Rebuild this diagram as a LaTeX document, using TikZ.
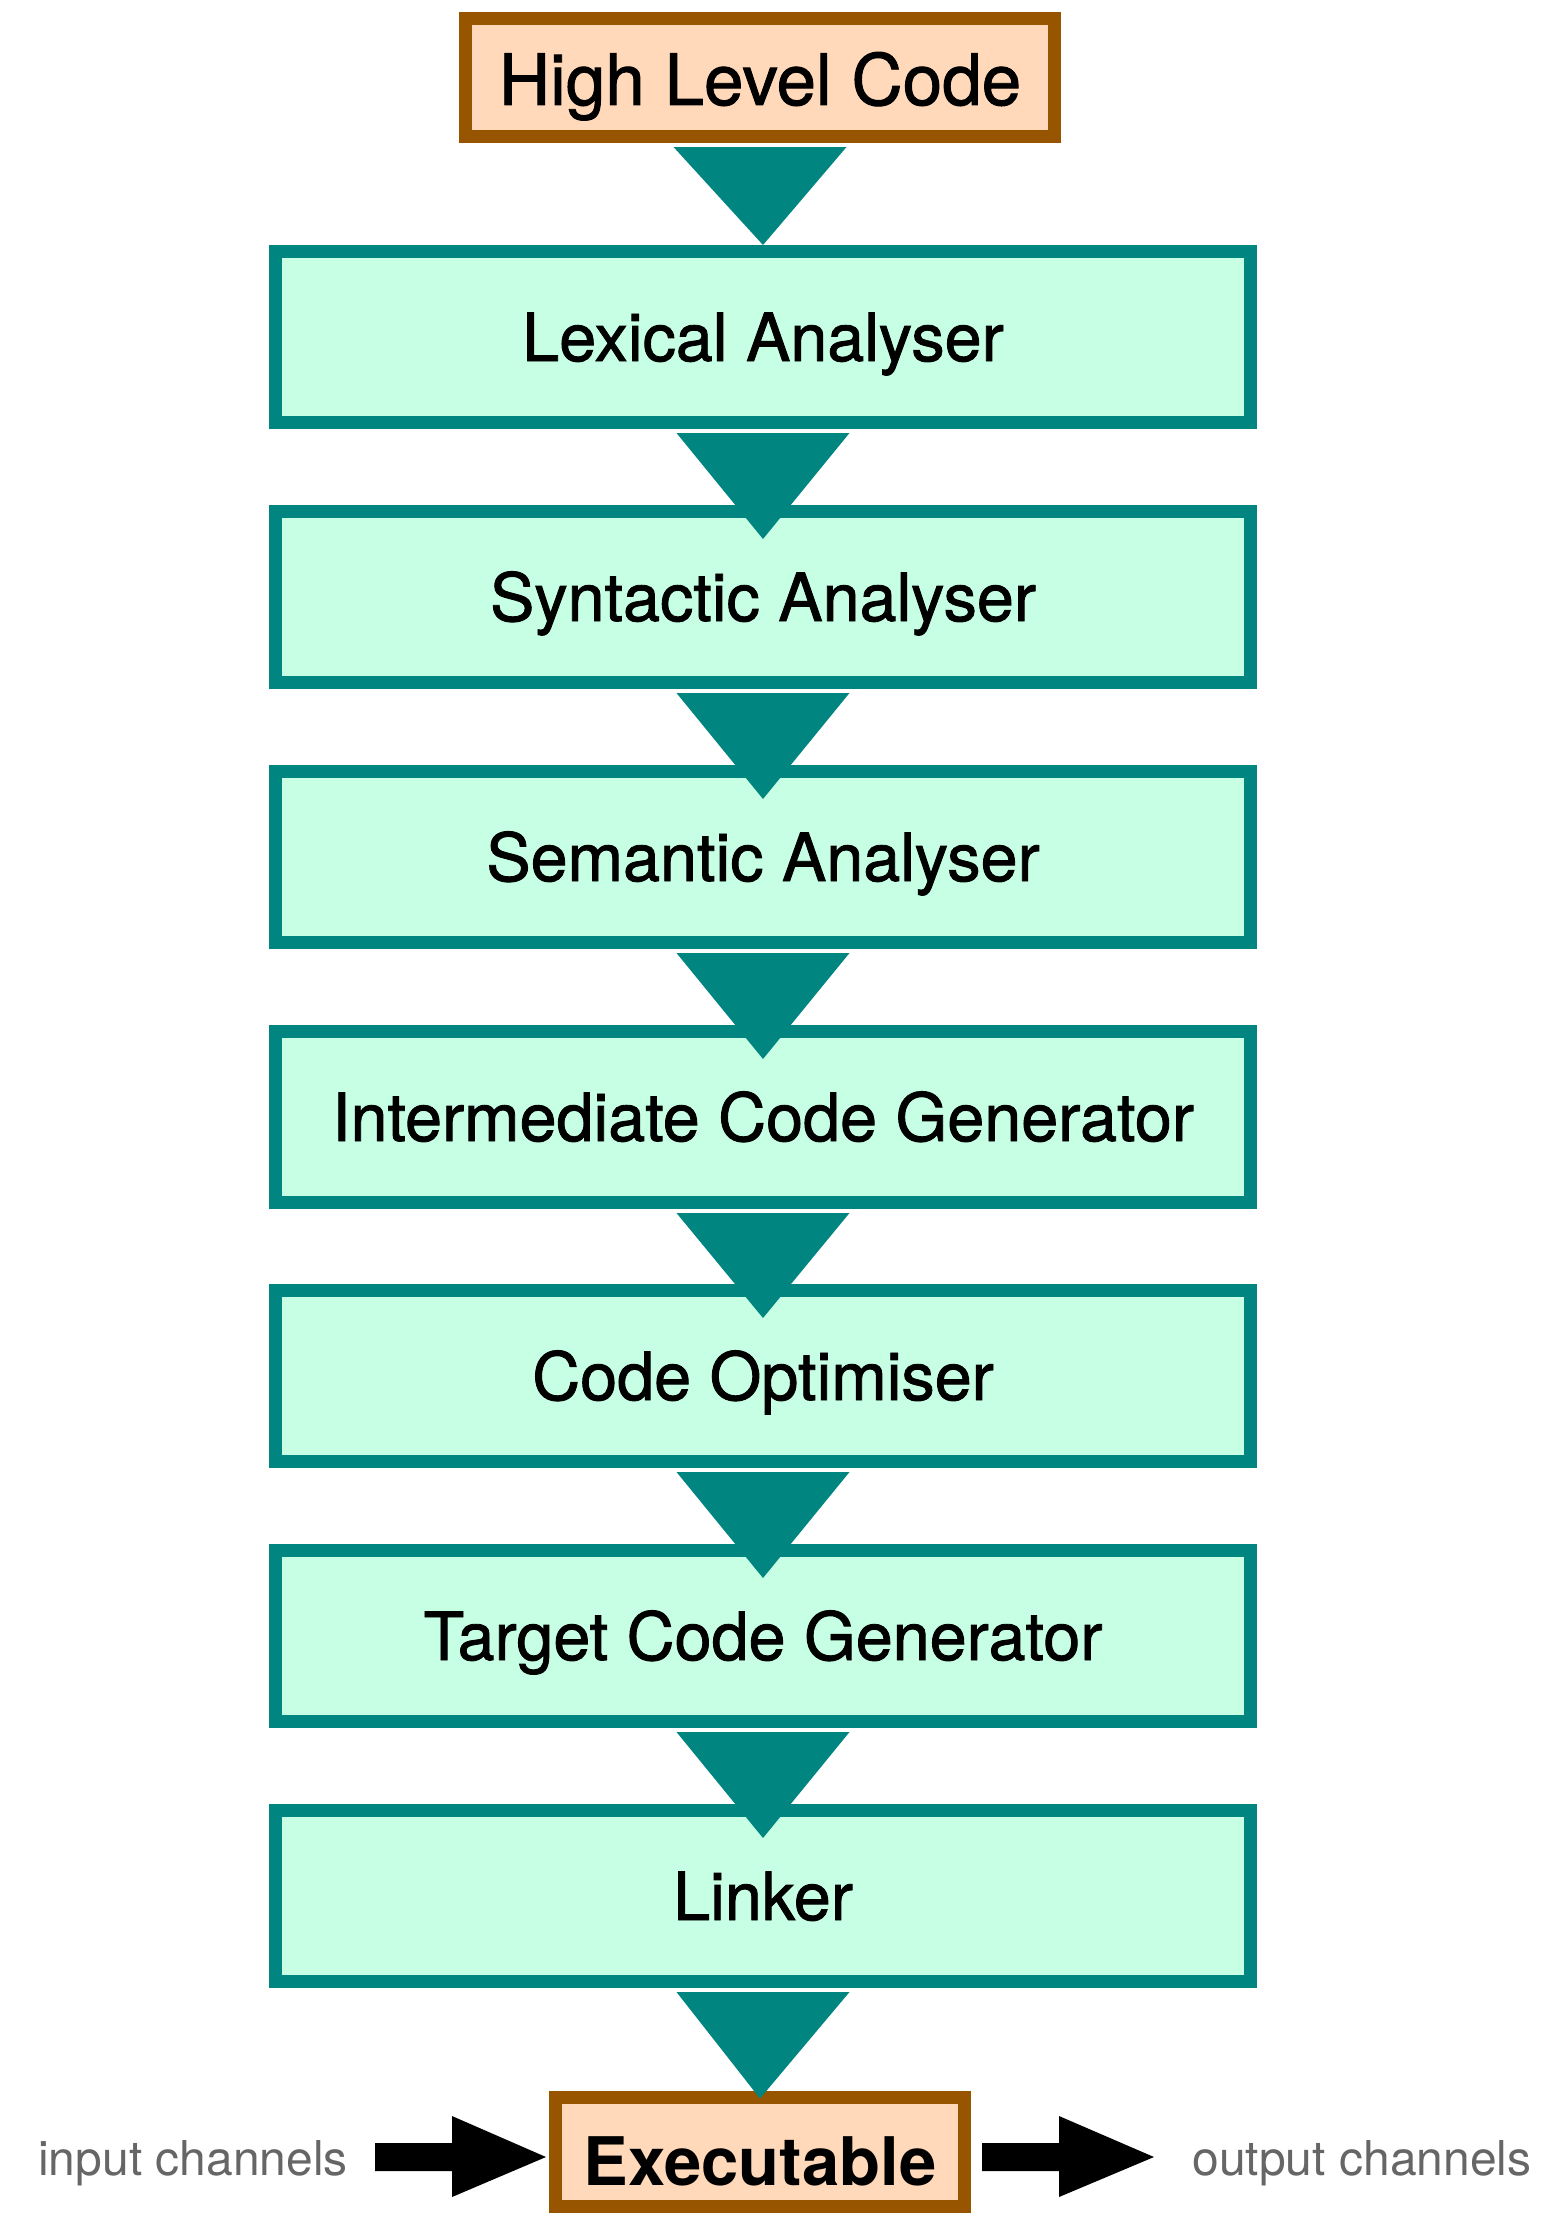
\documentclass[tikz,border=0pt]{standalone}
\usepackage{fontspec}
\setmainfont{TeX Gyre Heros}
\newfontfamily\medfont{TeX Gyre Heros}[FakeBold=1.3]
\usetikzlibrary{calc}
\definecolor{tealA}{RGB}{0,133,128}
\definecolor{mintA}{RGB}{198,255,227}
\definecolor{brownA}{RGB}{151,85,0}
\definecolor{peachA}{RGB}{255,217,185}
\definecolor{grayA}{RGB}{102,102,102}
\tikzset{
  stage/.style={draw=tealA, fill=mintA, line width=13pt, minimum width=975pt, minimum height=171pt,
    inner sep=0pt, font=\medfont\fontsize{66.5}{80}\selectfont, text height=48pt, text depth=0pt},
  term/.style={draw=brownA, fill=peachA, line width=13pt, inner sep=0pt},
  flow/.style={fill=tealA},
  chan/.style={font=\fontsize{48}{58}\selectfont, text=grayA, anchor=base, inner sep=0pt},
  fat/.style={fill=black}
}
\begin{document}
\begin{tikzpicture}[x=1pt,y=-1pt]
\useasboundingbox (0,0) rectangle (1549,2213);
\node[term, minimum width=589pt, minimum height=118pt, font=\medfont\fontsize{71}{85}\selectfont,
  text height=55pt, text depth=0pt] (src) at (760,77.5) {High Level Code};
\node[stage] (lex) at (763,337) {Lexical Analyser};
\node[stage] (syn) at (763,597) {Syntactic Analyser};
\node[stage] (sem) at (763,857) {Semantic Analyser};
\node[stage] (icg) at (763,1117) {Intermediate Code Generator};
\node[stage] (opt) at (763,1376) {Code Optimiser};
\node[stage] (tcg) at (763,1636) {Target Code Generator};
\node[stage] (lnk) at (763,1896) {Linker};
\node[term, minimum width=409pt, minimum height=109pt, font=\bfseries\fontsize{67}{80}\selectfont,
  text height=67pt, text depth=0pt] (exe) at (760,2151.5) {Executable};
\node[chan] (inch) at (193,2175) {input channels};
\node[chan] (outch) at (1362,2175) {output channels};
% flow triangles
\fill[flow] ($(src.south)+(-86.5,4)$) -- ($(src.south)+(86.5,4)$) -- ($(lex.north)+(0,0)$) -- cycle;
\foreach \a/\b in {lex/syn,syn/sem,sem/icg,icg/opt,opt/tcg,tcg/lnk}{
  \fill[flow] ($(\a.south)+(-86.5,4)$) -- ($(\a.south)+(86.5,4)$) -- ($(\b.north)+(0,34)$) -- cycle;
}
\fill[flow] ($(lnk.south)+(-86.5,4)$) -- ($(lnk.south)+(86.5,4)$) -- ($(exe.north)+(0,8)$) -- cycle;
% channel arrows
\coordinate (tipin) at ($(exe.west)+(-3,5.5)$);
\coordinate (tipout) at ($(exe.east)+(183,5.5)$);
\fill[fat] (tipin) -- ++(-94,-41) -- ++(0,27) -- ++(-77,0) -- ++(0,28) -- ++(77,0) -- ++(0,26) -- cycle;
\fill[fat] (tipout) -- ++(-95,-41) -- ++(0,27) -- ++(-77,0) -- ++(0,28) -- ++(77,0) -- ++(0,26) -- cycle;
\end{tikzpicture}
\end{document}
